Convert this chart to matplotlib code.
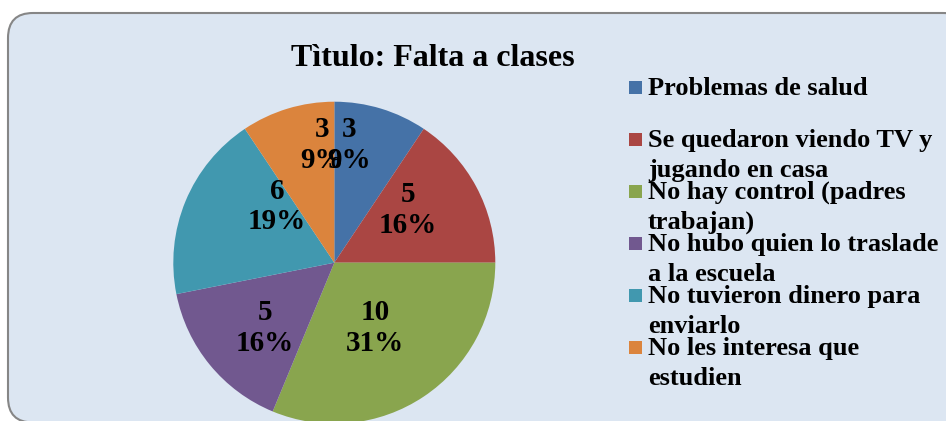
import matplotlib
matplotlib.use("Agg")
import matplotlib.pyplot as plt
from matplotlib.patches import FancyBboxPatch, Rectangle
import numpy as np

# ---- data ----
title = "Tìtulo: Falta a clases"
categories = [
    "Problemas de salud",
    "Se quedaron viendo TV y\njugando en casa",
    "No hay control (padres\ntrabajan)",
    "No hubo quien lo traslade\na la escuela",
    "No tuvieron dinero para\nenviarlo",
    "No les interesa que\nestudien",
]
values = [3, 5, 10, 5, 6, 3]

# ---- style ----
colors = ["#4572A7", "#AA4643", "#89A54E", "#71588F", "#4198AF", "#DB843D"]
# label anchor (radius fraction, angle deg) relative to pie centre
label_polar = [(0.737, 82.9), (0.563, 35.6), (0.478, -58.0),
               (0.591, -136.7), (0.497, 135.8), (0.735, 95.9)]
serif = ["Liberation Serif", "DejaVu Serif"]

W, H, DPI = 946, 421, 100
fig = plt.figure(figsize=(W / DPI, H / DPI), dpi=DPI)
fig.patch.set_facecolor("white")

# chart area box (pixel coords via inches)
box = FancyBboxPatch((8 / DPI, -1.5 / DPI), 960 / DPI, 409.5 / DPI,
                     boxstyle="round,pad=0,rounding_size=0.25",
                     transform=fig.dpi_scale_trans,
                     facecolor="#DCE6F2", edgecolor="#868686", linewidth=1.5,
                     zorder=-5)
fig.patches.append(box)

# pie axes
cx, cy, r = 334.3, 262.7, 161.0
ax = fig.add_axes([(cx - r) / W, (H - cy - r) / H, 2 * r / W, 2 * r / H])
ax.set_zorder(2)
ax.set_facecolor("none")
wedges, _ = ax.pie(values, colors=colors, startangle=90, counterclock=False,
                   radius=1.0, wedgeprops=dict(linewidth=0))
ax.set_xlim(-1, 1)
ax.set_ylim(-1, 1)
ax.set_aspect("equal")
ax.axis("off")

total = sum(values)
for v, (rr, ang) in zip(values, label_polar):
    pct = int(round(100.0 * v / total))
    a = np.deg2rad(ang)
    ax.text(rr * np.cos(a), rr * np.sin(a), f"{v}\n{pct}%", ha="center",
            va="center", fontsize=21, fontweight="bold", family=serif,
            linespacing=1.15, color="black")

# title
fig.text(433 / W, 1 - 58 / H, title, ha="center", va="center", fontsize=23,
         fontweight="bold", family=serif)

# legend (manual)
base0, step, linestep = 95, 52, 30
for i, (lab, col) in enumerate(zip(categories, colors)):
    b = base0 + i * step
    fig.patches.append(Rectangle((629 / DPI, (H - (b - 8) - 6.5) / DPI),
                                 13 / DPI, 13 / DPI, transform=fig.dpi_scale_trans,
                                 facecolor=col, edgecolor="none"))
    for j, line in enumerate(lab.split("\n")):
        fig.text(648 / W, 1 - (b + j * linestep) / H, line, ha="left",
                 va="baseline", fontsize=19, fontweight="bold", family=serif)

fig.savefig("out.png", dpi=DPI)
